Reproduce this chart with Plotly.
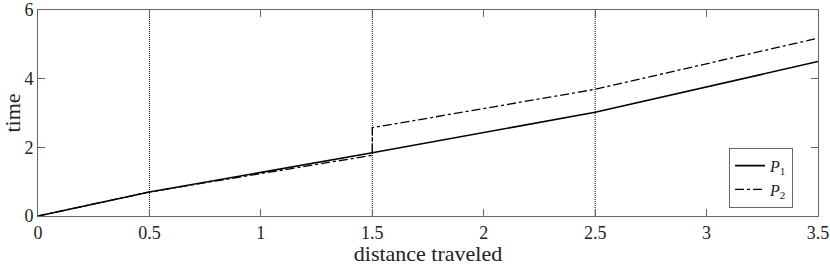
import plotly.graph_objects as go

# distances and times
dist_p1 = [0, 0.5, 1.5, 2.5, 3.5]
time_p1 = [0, 0.70, 1.84, 3.02, 4.50]

dist_p2 = [0, 0.5, 1.5, 1.5, 2.5, 3.5]
time_p2 = [0, 0.70, 1.77, 2.57, 3.69, 5.18]

# segment boundaries (dotted vertical lines)
boundaries = [0.5, 1.5, 2.5]

x_ticks = [0, 0.5, 1, 1.5, 2, 2.5, 3, 3.5]
x_labels = ['0', '0.5', '1', '1.5', '2', '2.5', '3', '3.5']
y_ticks = [0, 2, 4, 6]

font_family = 'Liberation Serif'
frame_color = '#666666'

fig = go.Figure()

for b in boundaries:
    fig.add_shape(type='line', xref='x', yref='paper', x0=b, x1=b, y0=0, y1=1,
                  line=dict(color='black', width=1, dash='1px,1px'), layer='below')

fig.add_trace(go.Scatter(
    x=dist_p1, y=time_p1, mode='lines',
    line=dict(color='black', width=1.6),
    name='<i>P</i><sub>1</sub>'
))
fig.add_trace(go.Scatter(
    x=dist_p2, y=time_p2, mode='lines',
    line=dict(color='black', width=1.3, dash='dashdot'),
    name='<i>P</i><sub>2</sub>'
))

axis_common = dict(
    showline=True, mirror='allticks', linecolor=frame_color, linewidth=1,
    ticks='inside', ticklen=7, tickcolor=frame_color, tickwidth=1,
    showgrid=False, zeroline=False, automargin=False,
    tickfont=dict(family=font_family, size=18, color='#222222'),
)

fig.update_layout(
    width=830, height=266,
    margin=dict(l=38, r=12, t=10, b=50),
    paper_bgcolor='white', plot_bgcolor='white',
    font=dict(family=font_family, size=18, color='#222222'),
    xaxis=dict(range=[0, 3.5], tickvals=x_ticks, ticktext=x_labels,
               title=dict(text='distance traveled', standoff=2), **axis_common),
    yaxis=dict(range=[0, 6], tickvals=y_ticks,
               title=dict(text='time', standoff=4), **axis_common),
    legend=dict(x=0.968, y=0.04, xanchor='right', yanchor='bottom',
                bordercolor=frame_color, borderwidth=1, bgcolor='white',
                font=dict(family=font_family, size=16, color='#222222'),
                tracegroupgap=0, itemwidth=30,
                traceorder='normal'),
    showlegend=True,
)

# drop the default page margin so the figure sits at the window's corner
fig.write_html('out.html', config={'displayModeBar': False},
               post_script="document.body.style.margin='0';")
